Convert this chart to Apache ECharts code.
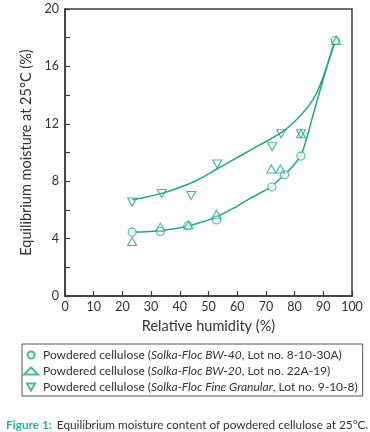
<!DOCTYPE html>
<html>
<head>
<meta charset="utf-8">
<script src="https://cdn.jsdelivr.net/npm/echarts@6/dist/echarts.min.js"></script>
<style>
html,body{margin:0;padding:0;background:#fff;}
#c{width:370px;height:432px;}
</style>
</head>
<body>
<div id="c"></div>
<script>
// Data
var circleX = [23.4, 33.2, 42.8, 52.8, 72.1, 76.5, 82.2, 94.2];
var circleY = [4.45, 4.5, 4.9, 5.3, 7.6, 8.45, 9.75, 17.8];
var upX = [23.4, 33.2, 43.0, 52.8, 71.9, 75.0, 82.2, 94.5];
var upY = [3.8, 4.8, 4.95, 5.7, 8.85, 8.85, 11.3, 17.8];
var downX = [23.4, 33.7, 44.0, 53.0, 72.2, 75.3, 82.2];
var downY = [6.55, 7.15, 7.0, 9.2, 10.4, 11.3, 11.3];
var upperCurveX = [23.4, 28, 33.7, 38, 42.4, 47.1, 52.9, 58.7, 64.5, 70.3, 75.6, 80.2, 84.9, 87.8, 90.1, 91.8, 93.6, 94.3];
var upperCurveY = [6.7, 6.88, 7.15, 7.42, 7.75, 8.18, 8.85, 9.5, 10.15, 10.8, 11.42, 12.2, 13.25, 14.2, 15.35, 16.35, 17.4, 17.85];
var lowerCurveX = [23.4, 28, 33.1, 38, 43, 47.1, 52.7, 58.7, 64.5, 71.9, 76.5, 79.6, 82.2, 83.7, 86, 88.4, 90.7, 93, 94.3];
var lowerCurveY = [4.45, 4.48, 4.55, 4.68, 4.88, 5.12, 5.5, 6.12, 6.8, 7.62, 8.47, 9.1, 9.8, 10.65, 12.3, 14.0, 15.6, 17.15, 17.85];
var seriesNames = ['BW-40', 'BW-20', 'Fine Granular'];
var lotNos = ['8-10-30A', '22A-19', '9-10-8'];
var xTicks = [0, 10, 20, 30, 40, 50, 60, 70, 80, 90, 100];
var yTickLabels = [0, 4, 8, 12, 16, 20];

function zip(a, b) { return a.map(function (v, i) { return [v, b[i]]; }); }

var TEAL = '#1ea58c';
var DARK = '#3a3a3a';
var FONT = 'Lato';

var chart = echarts.init(document.getElementById('c'), null, {renderer: 'canvas'});
var hollow = {color: '#ffffff', borderColor: TEAL, borderWidth: 1.1};

chart.setOption({
  animation: false,
  backgroundColor: '#ffffff',
  grid: {left: 65, right: 18, top: 9, bottom: 136, show: true, borderColor: DARK, borderWidth: 1.5},
  title: {
    left: 1, top: 411,
    text: '{b|Figure 1:} {n|Equilibrium moisture content of powdered cellulose at 25\u00b0C.}',
    textStyle: {
      fontWeight: 'normal',
      rich: {
        b: {fontFamily: FONT, fontSize: 11.8, fontWeight: 'bold', color: '#2aae9c'},
        n: {fontFamily: FONT, fontSize: 11.8, fontWeight: 'normal', color: '#333333'}
      }
    }
  },
  legend: {
    orient: 'vertical', left: 22, top: 344,
    padding: [4, 5, 2, 1],
    borderColor: '#555555', borderWidth: 1,
    itemWidth: 14, itemHeight: 7, itemGap: 2,
    data: seriesNames,
    formatter: function (name) {
      var i = seriesNames.indexOf(name);
      return '{n|Powdered cellulose (}{i|Solka-Floc ' + name + '}{n|, Lot no. ' + lotNos[i] + ')}';
    },
    textStyle: {
      lineHeight: 14,
      rich: {
        n: {fontFamily: FONT, fontSize: 12, color: '#333333', lineHeight: 14},
        i: {fontFamily: FONT, fontSize: 12, fontStyle: 'italic', color: '#333333', lineHeight: 14}
      }
    }
  },
  xAxis: {
    type: 'value', min: 0, max: 100, interval: 10,
    name: 'Relative humidity (%)', nameLocation: 'middle', nameGap: 23,
    nameTextStyle: {fontFamily: FONT, fontSize: 14.5, color: '#333333'},
    axisLine: {show: true, lineStyle: {color: DARK, width: 1.5}},
    axisTick: {show: true, inside: true, length: 5, lineStyle: {color: DARK, width: 1.2}},
    axisLabel: {fontFamily: FONT, fontSize: 12.5, color: '#333333', margin: 4,
      formatter: function (v) { return xTicks.indexOf(v) >= 0 ? String(v) : ''; }},
    splitLine: {show: false}
  },
  yAxis: {
    type: 'value', min: 0, max: 20, interval: 2,
    name: 'Equilibrium moisture at 25\u00b0C (%)', nameLocation: 'middle', nameGap: 30,
    nameTextStyle: {fontFamily: FONT, fontSize: 14.5, color: '#333333'},
    axisLine: {show: true, lineStyle: {color: DARK, width: 1.5}},
    axisTick: {show: true, inside: true, length: 5, lineStyle: {color: DARK, width: 1.2}},
    axisLabel: {fontFamily: FONT, fontSize: 12.5, color: '#333333', margin: 6,
      formatter: function (v) { return yTickLabels.indexOf(v) >= 0 ? String(v) : ''; }},
    splitLine: {show: false}
  },
  series: [
    {type: 'line', name: 'upperCurve', data: zip(upperCurveX, upperCurveY), smooth: 0.2,
      showSymbol: false, symbol: 'none', lineStyle: {color: TEAL, width: 1.5}, z: 2, silent: true},
    {type: 'line', name: 'lowerCurve', data: zip(lowerCurveX, lowerCurveY), smooth: 0.2,
      showSymbol: false, symbol: 'none', lineStyle: {color: TEAL, width: 1.5}, z: 2, silent: true},
    {type: 'scatter', name: seriesNames[0], data: zip(circleX, circleY), symbol: 'circle', symbolSize: 8,
      itemStyle: hollow, z: 3},
    {type: 'scatter', name: seriesNames[1], data: zip(upX, upY), symbol: 'triangle', symbolSize: [9, 8],
      itemStyle: {color: 'rgba(255,255,255,0)', borderColor: TEAL, borderWidth: 1.1}, z: 4},
    {type: 'scatter', name: seriesNames[2], data: zip(downX, downY), symbol: 'path://M0,0L10,0L5,8.66Z', symbolSize: [9, 8],
      itemStyle: {color: 'rgba(255,255,255,0)', borderColor: TEAL, borderWidth: 1.1}, z: 4}
  ]
});
</script>
</body>
</html>
